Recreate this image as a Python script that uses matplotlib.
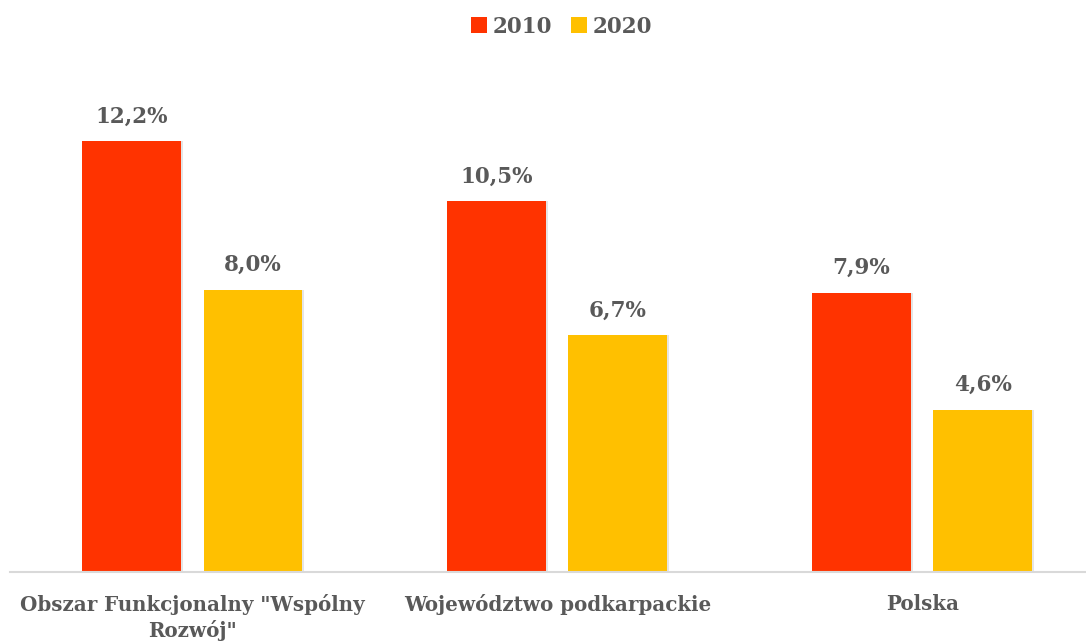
import matplotlib.pyplot as plt
import numpy as np

categories = ['Obszar Funkcjonalny "Wspólny\nRozwój"', 'Województwo podkarpackie', 'Polska']
years = ['2010', '2020']
values_2010 = [12.2, 10.5, 7.9]
values_2020 = [8.0, 6.7, 4.6]
colors = ['#FF3300', '#FFC000']
text_color = '#595959'

plt.rcParams['font.family'] = ['DejaVu Serif']
plt.rcParams['font.weight'] = 'bold'

fig = plt.figure(figsize=(10.86, 6.42), dpi=100)
ax = fig.add_axes([10 / 1086, 70 / 642, 1 - 10 / 1086, 512 / 642])

x = np.arange(len(categories))
w = 0.271
off = 0.166
for vals, col, yr, sgn in zip([values_2010, values_2020], colors, years, [-1, 1]):
    # soft shadow
    ax.bar(x + sgn * off + 0.005, vals, w, color='#000000', alpha=0.10, zorder=1)
    bars = ax.bar(x + sgn * off, vals, w, color=col, label=yr, zorder=2)
    for b, v in zip(bars, vals):
        ax.annotate('{:.1f}%'.format(v).replace('.', ','),
                    (b.get_x() + b.get_width() / 2, v),
                    xytext=(0, 10), textcoords='offset points',
                    ha='center', va='bottom', fontsize=15.5,
                    fontweight='bold', color=text_color)

ax.set_xlim(-0.5, 2.449)
ax.set_ylim(0, 14.5)
ax.set_yticks([])
ax.set_xticks(x)
ax.set_xticklabels(categories, fontsize=14.3, fontweight='bold', color=text_color,
                   linespacing=1.3)
ax.tick_params(axis='x', length=0, pad=16)
for s in ['top', 'right', 'left']:
    ax.spines[s].set_visible(False)
ax.spines['bottom'].set_color('#D9D9D9')
ax.spines['bottom'].set_linewidth(1.5)

handles, labels = ax.get_legend_handles_labels()
fig.legend(handles[-2:], labels[-2:], loc='upper center', bbox_to_anchor=(0.517, 1.006),
           ncol=2, frameon=False, handlelength=0.75, handleheight=0.75,
           handletextpad=0.25, columnspacing=0.9,
           prop={'size': 15.5, 'weight': 'bold'}, labelcolor=text_color)

plt.savefig('out.png', dpi=100)
